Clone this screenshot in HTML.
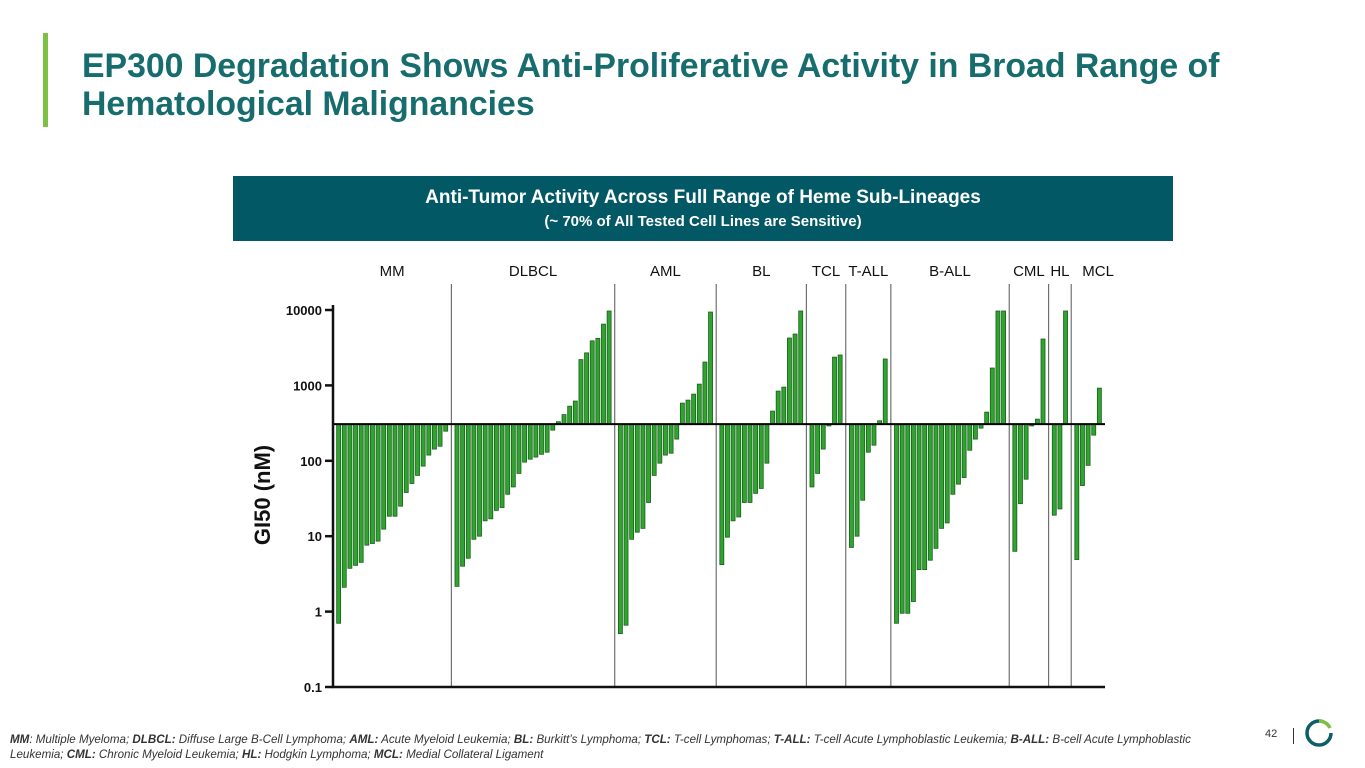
<!DOCTYPE html>
<html><head><meta charset="utf-8"><style>
body{margin:0;width:1365px;height:768px;background:#fff;position:relative;overflow:hidden;font-family:"Liberation Sans",sans-serif}
.abs{position:absolute}
</style></head><body>
<div class="abs" style="left:43px;top:33px;width:5px;height:94px;background:#7cc142"></div>
<div class="abs" style="left:82px;top:47px;font-size:33.8px;font-weight:bold;color:#176c6e;line-height:38px;white-space:nowrap">EP300 Degradation Shows Anti-Proliferative Activity in Broad Range of<br>Hematological Malignancies</div>
<div class="abs" style="left:233px;top:176px;width:940px;height:65px;background:#035866;color:#fff;text-align:center;font-weight:bold">
<div style="font-size:19px;margin-top:11px">Anti-Tumor Activity Across Full Range of Heme Sub-Lineages</div>
<div style="font-size:15px;margin-top:4px">(~ 70% of All Tested Cell Lines are Sensitive)</div></div>
<svg class="abs" style="left:0;top:0" width="1365" height="768" id="chart">
<text transform="translate(270,495) rotate(-90)" text-anchor="middle" font-size="22" font-weight="bold" fill="#111" font-family="Liberation Sans, sans-serif">GI50 (nM)</text>
</svg>
<div class="abs" style="left:10px;top:732px;font-size:11.6px;font-style:italic;color:#333;line-height:15px;width:1225px"><b>MM</b>: Multiple Myeloma; <b>DLBCL:</b> Diffuse Large B-Cell Lymphoma; <b>AML:</b> Acute Myeloid Leukemia; <b>BL:</b> Burkitt’s Lymphoma; <b>TCL:</b> T-cell Lymphomas; <b>T-ALL:</b> T-cell Acute Lymphoblastic Leukemia; <b>B-ALL:</b> B-cell Acute Lymphoblastic Leukemia; <b>CML:</b> Chronic Myeloid Leukemia; <b>HL:</b> Hodgkin Lymphoma; <b>MCL:</b> Medial Collateral Ligament</div>
<div class="abs" style="left:1265px;top:728px;font-size:11px;color:#333">42</div>
<div class="abs" style="left:1293px;top:728px;width:1px;height:16px;background:#333"></div>
<svg class="abs" style="left:1303px;top:717px" width="32" height="32"><circle cx="16" cy="16" r="12" fill="none" stroke="#0f5d6a" stroke-width="3.5" stroke-dasharray="60 16"/><path d="M16 4 A12 12 0 0 1 27 11" fill="none" stroke="#7cc142" stroke-width="3.5"/></svg>
<script>
const groups=["MM","DLBCL","AML","BL","TCL","T-ALL","B-ALL","CML","HL","MCL"];
const mm=[0.70,2.1,3.75,4.1,4.5,7.6,8.0,8.6,12.4,18.4,18.4,25,38,50,64,85,119,143,156,247];
const dlbcl=[2.16,4.0,5.1,9.1,10,16,17,22,24,36,45,68,96,105,112,122,130,255,330,410,530,620,2200,2700,3900,4200,6500,9700];
const aml=[0.51,0.66,9.1,11.3,12.7,28,64,93,119,126,194,582,638,766,1040,2040,9400];
const bl=[4.2,9.7,16,18,28,28,37,43,93,456,840,950,4250,4800,9700];
const tcl=[45,68,143,290,2370,2530];
const tall=[7.1,10,30,130,161,340,2240];
const ball=[0.70,0.95,0.95,1.36,3.6,3.6,4.8,6.9,12.7,15,36,49,60,138,194,271,442,1700,9700,9700];
const cml=[6.3,27,57,290,357,4120];
const hl=[19,23,9700];
const mcl=[4.9,47,87,219,920];
const series=[mm,dlbcl,aml,bl,tcl,tall,ball,cml,hl,mcl];
const yTicks=[0.1,1,10,100,1000,10000];
const yTickLabels=["0.1","1","10","100","1000","10000"];
const baselineValue=306;

const NS="http://www.w3.org/2000/svg";
const svg=document.getElementById('chart');
const X0=333,X1=1105,Ytop=310,Ybot=687;
function y(v){return Ytop+(Math.log10(10000)-Math.log10(v))*(Ybot-Ytop)/5;}
const total=series.reduce((a,s)=>a+s.length,0);
const gap=1,pad=0.5;
const pitch=(X1-X0)/(total+gap*(series.length-1)+2*pad);
function xSlot(u){return X0+u*pitch;}
function mk(tag,attrs){const e=document.createElementNS(NS,tag);for(const k in attrs)e.setAttribute(k,attrs[k]);svg.appendChild(e);return e;}
let u=pad;
const yb=y(baselineValue);
series.forEach((s,gi)=>{
  const start=u;
  s.forEach((v,i)=>{
    const cx=xSlot(u+0.5);
    const yv=y(v);
    const r=mk('rect',{x:cx-2,y:Math.min(yv,yb),width:4,height:Math.max(1,Math.abs(yv-yb)),fill:'#2ea52e',stroke:'#1c5e1c','stroke-width':0.8});
    
    
    u+=1;
  });
  let mid=xSlot((start+u)/2);
  if(gi===series.length-1) mid+=10;
  const t=mk('text',{x:mid,y:276,'text-anchor':'middle','font-size':15,fill:'#111','font-family':'Liberation Sans, sans-serif'});
  t.textContent=groups[gi];
  
  
  if(gi<series.length-1){
    const dx=xSlot(u+gap/2);
    const l=mk('line',{x1:dx,x2:dx,y1:284,y2:Ybot,stroke:'#555','stroke-width':1});
    
    
    u+=gap;
  }
});
const bl0=mk('line',{x1:X0,x2:X1,y1:yb,y2:yb,stroke:'#000','stroke-width':2});


const ya=mk('line',{x1:X0,x2:X0,y1:305,y2:Ybot+1,stroke:'#111','stroke-width':2.5});


const xa=mk('line',{x1:X0-1,x2:X1,y1:Ybot,y2:Ybot,stroke:'#111','stroke-width':2.5});


yTicks.forEach((v,i)=>{
  const ty=y(v);
  const tk=mk('line',{x1:X0-8,x2:X0,y1:ty,y2:ty,stroke:'#111','stroke-width':2.5});
  
  
  const lb=mk('text',{x:X0-11,y:ty+5,'text-anchor':'end','font-size':13,'font-weight':'bold',fill:'#111','font-family':'Liberation Sans, sans-serif'});
  lb.textContent=yTickLabels[i];
  
  
});
</script>
</body></html>
